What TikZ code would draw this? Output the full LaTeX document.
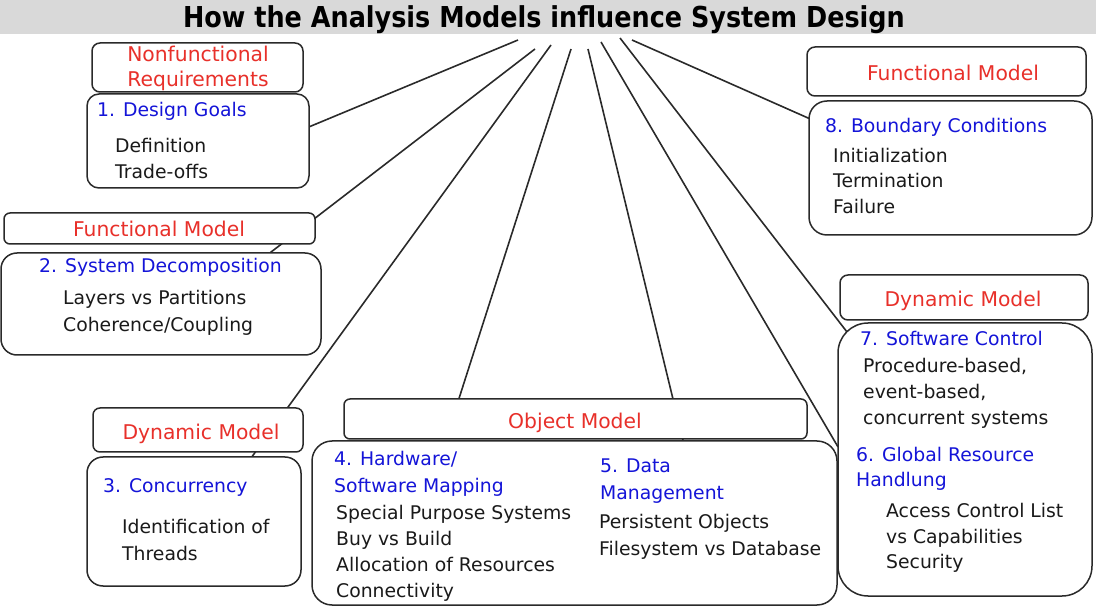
\documentclass[tikz,border=0pt]{standalone}
\usepackage{fontspec}
\setmainfont{DejaVu Sans}
\newfontfamily\titlefont[FakeStretch=0.885]{DejaVu Sans}
\usetikzlibrary{calc,backgrounds}
\definecolor{hdr}{HTML}{D9D9D9}
\definecolor{mred}{HTML}{E8302A}
\definecolor{mblue}{HTML}{1414D8}
\definecolor{ink}{HTML}{1A1A1A}
\definecolor{edge}{HTML}{2A2A2A}
\tikzset{
 box/.style={draw=edge, line width=1.5pt, fill=white, anchor=north west, inner sep=0pt, outer sep=0pt},
 txt/.style={anchor=base west, inner sep=0pt, font=\fontsize{18.8}{22}\selectfont, text=ink},
 head/.style={txt, text=mblue},
 model/.style={anchor=base, inner sep=0pt, font=\fontsize{20.3}{23}\selectfont, text=mred},
 link/.style={draw=edge, line width=1.6pt},
}
\begin{document}
\begin{tikzpicture}[x=1pt,y=-1pt]
\useasboundingbox (0,0) rectangle (1096,612);
% boxes
\node[box, minimum width=211pt, minimum height=49pt, rounded corners=8pt] (nfr) at (92,43) {};
\node[box, minimum width=222pt, minimum height=94pt, rounded corners=12pt] (b1) at (87,94) {};
\node[box, minimum width=311pt, minimum height=31pt, rounded corners=6pt] (fml) at (4,213) {};
\node[box, minimum width=320pt, minimum height=102pt, rounded corners=16pt] (b2) at (1,253) {};
\node[box, minimum width=210pt, minimum height=44pt, rounded corners=7pt] (dyml) at (93,408) {};
\node[box, minimum width=214pt, minimum height=129pt, rounded corners=16pt] (b3) at (87,457) {};
\node[box, minimum width=463pt, minimum height=40pt, rounded corners=6pt] (om) at (344,399) {};
\node[box, minimum width=525pt, minimum height=164pt, rounded corners=20pt] (b45) at (312,441) {};
\node[box, minimum width=279pt, minimum height=49pt, rounded corners=8pt] (fmr) at (807,47) {};
\node[box, minimum width=283pt, minimum height=134pt, rounded corners=18pt] (b8) at (809,101) {};
\node[box, minimum width=248pt, minimum height=45pt, rounded corners=8pt] (dymr) at (840,275) {};
\node[box, minimum width=254pt, minimum height=273pt, rounded corners=30pt] (b67) at (838,323) {};
% hub points
\coordinate (h1) at (518,40);
\coordinate (h2) at (535,49);
\coordinate (h3) at (551,45);
\coordinate (h4) at (571,49);
\coordinate (h5) at (588,49);
\coordinate (h6) at (601,42);
\coordinate (h7) at (620,38);
\coordinate (h8) at (632,40);
\begin{scope}[on background layer]
\fill[hdr] (0,0) rectangle (1096,34);
\draw[link] (h1) -- ($(b1.north east)!0.35!(b1.south east)$);
\draw[link] (h2) -- ($(b2.north west)!0.84!(b2.north east)$);
\draw[link] (h3) -- ($(b3.north west)!0.77!(b3.north east)$);
\draw[link] (h4) -- ($(om.north west)!0.248!(om.north east)$);
\draw[link] (h5) -- ($(b45.north west)!0.707!(b45.north east)$);
\draw[link] (h6) -- ($(b67.north west)!0.454!(b67.south west)$);
\draw[link] (h7) -- ($(b67.north west)+(9,9)$);
\draw[link] (h8) -- ($(b8.north west)!0.13!(b8.south west)$);
\end{scope}
% title
\node[anchor=base, inner sep=0pt, font=\titlefont\bfseries\fontsize{28.8}{30}\selectfont] (title) at (544,28) {How the Analysis Models influence System Design};
% model labels
\node[model] (nfr1) at (198,62) {Nonfunctional};
\node[model] (nfr2) at (198,87) {Requirements};
\node[model] (fmlt) at (159,237) {Functional Model};
\node[model] (dymlt) at (201,440) {Dynamic Model};
\node[model] (omt) at (575,429) {Object Model};
\node[model] (fmrt) at (953,81) {Functional Model};
\node[model] (dymrt) at (963,307) {Dynamic Model};
% box 1
\node[head] (t1a) at (97,117) {1. Design Goals};
\node[txt] (t1b) at (115,153) {Definition};
\node[txt] (t1c) at (115,179) {Trade-offs};
% box 2
\node[head] (t2a) at (39,273) {2. System Decomposition};
\node[txt] (t2b) at (63,305) {Layers vs Partitions};
\node[txt] (t2c) at (63,332) {Coherence/Coupling};
% box 3
\node[head] (t3a) at (103,493) {3. Concurrency};
\node[txt] (t3b) at (122,533) {Identification of};
\node[txt] (t3c) at (122,560) {Threads};
% box 4/5
\node[head] (t4a) at (334,465) {4. Hardware/};
\node[head] (t4b) at (334,492) {Software Mapping};
\node[txt] (t4c) at (336,519) {Special Purpose Systems};
\node[txt] (t4d) at (336,545) {Buy vs Build};
\node[txt] (t4e) at (336,571) {Allocation of Resources};
\node[txt] (t4f) at (336,597) {Connectivity};
\node[head] (t5a) at (600,472) {5. Data};
\node[head] (t5b) at (600,499) {Management};
\node[txt] (t5c) at (599,528) {Persistent Objects};
\node[txt] (t5d) at (599,555) {Filesystem vs Database};
% box 8
\node[head] (t8a) at (825,133) {8. Boundary Conditions};
\node[txt] (t8b) at (833,163) {Initialization};
\node[txt] (t8c) at (833,188) {Termination};
\node[txt] (t8d) at (833,214) {Failure};
% box 6/7
\node[head] (t7a) at (860,346) {7. Software Control};
\node[txt] (t7b) at (863,373) {Procedure-based,};
\node[txt] (t7c) at (863,399) {event-based,};
\node[txt] (t7d) at (863,425) {concurrent systems};
\node[head] (t6a) at (856,461) {6. Global Resource};
\node[head] (t6b) at (856,486) {Handlung};
\node[txt] (t6c) at (886,517) {Access Control List};
\node[txt] (t6d) at (886,543) {vs Capabilities};
\node[txt] (t6e) at (886,568) {Security};
\end{tikzpicture}
\end{document}
